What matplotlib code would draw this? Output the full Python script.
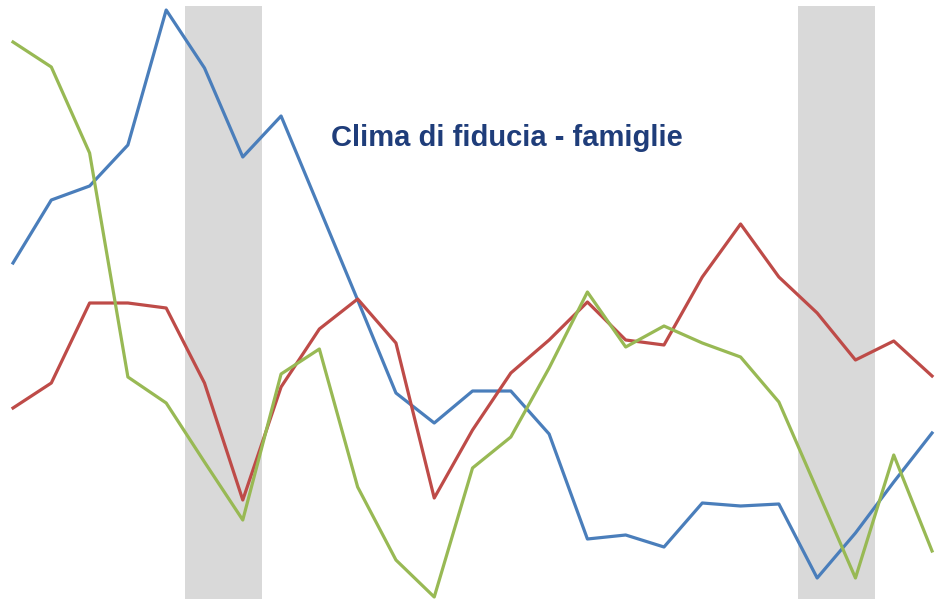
import numpy as np
import matplotlib
matplotlib.use('Agg')
import matplotlib.pyplot as plt

# valori (scala arbitraria, nessun asse visibile)
periodi = list(range(25))
blu = [33.6, 39.9, 41.3, 45.4, 58.9, 53.1, 44.2, 48.3, 39.1, 29.9, 20.6, 17.6, 20.8,
       20.8, 16.5, 6.0, 6.4, 5.2, 9.6, 9.3, 9.5, 2.1, 6.6, 11.7, 16.6]
rosso = [19.1, 21.6, 29.6, 29.6, 29.1, 21.6, 9.9, 21.2, 27.0, 30.0, 25.6, 10.1, 16.9,
         22.6, 25.9, 29.7, 25.9, 25.4, 32.2, 37.5, 32.2, 28.6, 23.9, 25.8, 22.3]
verde = [55.7, 53.2, 44.6, 22.2, 19.6, 13.7, 7.9, 22.5, 25.0, 11.2, 3.9, 0.2, 13.1,
         16.2, 23.1, 30.7, 25.2, 27.3, 25.6, 24.2, 19.7, 10.9, 2.1, 14.4, 4.8]
# fasi di recessione (bande grigie)
recessioni = [(4.5, 6.5), (20.5, 22.5)]
titolo = 'Clima di fiducia - famiglie'

fig = plt.figure(figsize=(9.42, 5.99), dpi=100)
ax = fig.add_axes([0, 0, 1, 1])

for x0, x1 in recessioni:
    ax.fill_between([x0, x1], 0, 59.3, color='#D9D9D9', lw=0, zorder=1)

ax.plot(periodi, blu, color='#4A7EBB', lw=2.3, zorder=3)
ax.plot(periodi, rosso, color='#BE4B48', lw=2.3, zorder=3)
ax.plot(periodi, verde, color='#98B954', lw=2.3, zorder=3)

ax.set_xlim(-0.34, 24.26)
ax.set_ylim(0, 59.9)
ax.axis('off')

# il font originale è un Arial Narrow: uso Liberation Sans in grassetto
fig.text(507 / 942, 1 - 146 / 599, titolo, ha='center', va='baseline',
         fontsize=21, fontweight='bold', color='#1F3D7A', family='Liberation Sans')

fig.savefig('out.png', dpi=100)
